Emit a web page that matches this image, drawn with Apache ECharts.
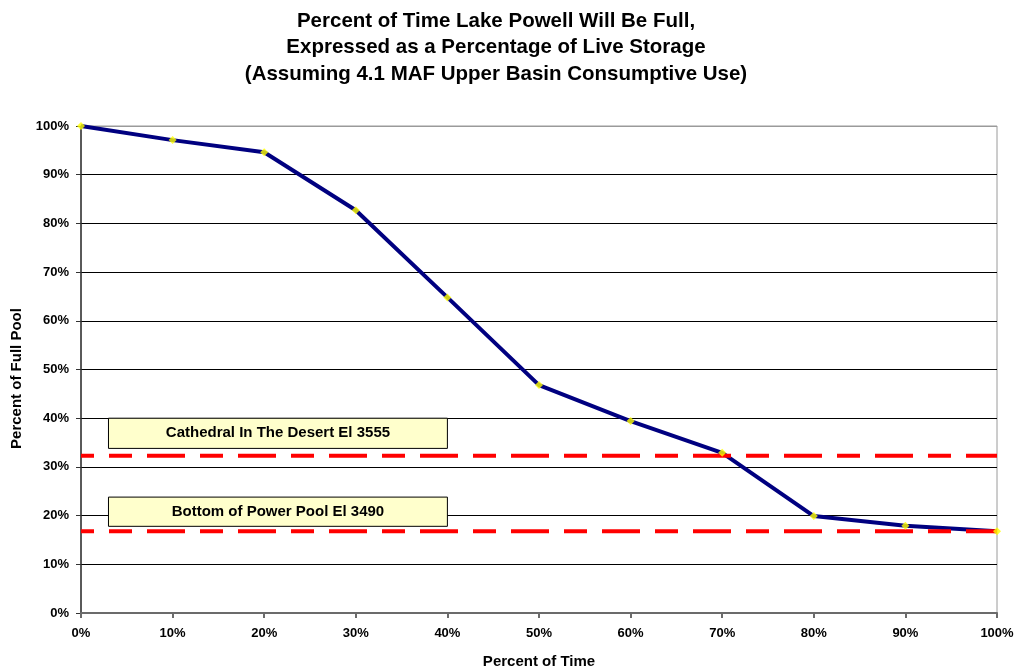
<!DOCTYPE html>
<html>
<head>
<meta charset="utf-8">
<script src="https://cdn.jsdelivr.net/npm/echarts@6/dist/echarts.min.js"></script>
<style>
html,body{margin:0;padding:0;background:#fff;}
#chart{width:1014px;height:672px;}
</style>
</head>
<body>
<div id="chart"></div>
<script>
var titleLines = [
  'Percent of Time Lake Powell Will Be Full,',
  'Expressed as a Percentage of Live Storage',
  '(Assuming 4.1 MAF Upper Basin Consumptive Use)'
];
var xAxisTitle = 'Percent of Time';
var yAxisTitle = 'Percent of Full Pool';
var timePct = [0, 10, 20, 30, 40, 50, 60, 70, 80, 90, 100];
var fullPoolPct = [100, 97.1, 94.6, 82.7, 64.8, 46.8, 39.4, 32.9, 19.9, 17.9, 16.8];
var cathedralLabel = 'Cathedral In The Desert El 3555';
var cathedralLevel = 32.3;
var powerPoolLabel = 'Bottom of Power Pool El 3490';
var powerPoolLevel = 16.8;
var cathedralBox = [[3, 40], [40, 33.8]];
var powerPoolBox = [[3, 23.8], [40, 17.8]];
var xTicks = [0, 100, 10];
var yTicks = [0, 100, 10];

var FONT = '"Liberation Sans", Arial, sans-serif';
var curve = timePct.map(function (t, i) { return [t, fullPoolPct[i]]; });
function levelLine(v) { return [[xTicks[0], v], [xTicks[1], v]]; }
function box(b, name) {
  return [{ coord: b[0], name: name }, { coord: b[1] }];
}
var gridColors = [];
for (var i = 0; i <= 10; i++) gridColors.push(i === 10 ? '#9a9a9a' : '#000');

var dashStyle = { color: '#ff0000', width: 4, type: [38, 15, 23, 15], dashOffset: 25 };
var boxStyle = {
  silent: true,
  itemStyle: { color: '#ffffcc', borderColor: '#000', borderWidth: 1 },
  label: { show: true, position: 'inside', color: '#000', fontFamily: FONT, fontWeight: 'bold', fontSize: 15 }
};

var chart = echarts.init(document.getElementById('chart'), null, { renderer: 'canvas' });
chart.setOption({
  animation: false,
  backgroundColor: '#fff',
  title: {
    text: titleLines.join('\n'),
    left: 496,
    top: 8,
    textAlign: 'center',
    padding: 0,
    textStyle: { fontFamily: FONT, fontWeight: 'bold', fontSize: 20.5, lineHeight: 26.5, color: '#000' }
  },
  grid: { left: 81, right: 17, top: 126, bottom: 59, outerBoundsMode: 'none', containLabel: false,
          show: true, borderColor: '#9a9a9a', borderWidth: 1 },
  xAxis: {
    type: 'value', min: xTicks[0], max: xTicks[1], interval: xTicks[2],
    name: xAxisTitle, nameLocation: 'middle', nameGap: 41,
    nameTextStyle: { fontFamily: FONT, fontWeight: 'bold', fontSize: 15, color: '#000' },
    axisLine: { lineStyle: { color: '#6b6b6b', width: 2 } },
    axisTick: { show: true, length: 5, lineStyle: { color: '#6b6b6b', width: 2 } },
    axisLabel: { formatter: '{value}%', margin: 14, fontFamily: FONT, fontWeight: 'bold', fontSize: 13, color: '#000' },
    splitLine: { show: false }
  },
  yAxis: {
    type: 'value', min: yTicks[0], max: yTicks[1], interval: yTicks[2],
    name: yAxisTitle, nameLocation: 'middle', nameGap: 56, nameRotate: 90,
    nameTextStyle: { fontFamily: FONT, fontWeight: 'bold', fontSize: 15, color: '#000', padding: [0, 18, 0, 0] },
    axisLine: { show: true, lineStyle: { color: '#333', width: 1.5 } },
    axisTick: { show: true, length: 5, lineStyle: { color: '#333', width: 1 } },
    axisLabel: { formatter: '{value}%', margin: 12, fontFamily: FONT, fontWeight: 'bold', fontSize: 13, color: '#000' },
    splitLine: { show: true, lineStyle: { color: gridColors, width: 1 } }
  },
  series: [
    {
      type: 'line', data: curve, symbol: 'none', z: 2,
      lineStyle: { color: '#000080', width: 4 }
    },
    {
      type: 'line', data: levelLine(cathedralLevel), symbol: 'none', z: 3,
      lineStyle: dashStyle,
      markArea: Object.assign({ data: [box(cathedralBox, cathedralLabel)] }, boxStyle)
    },
    {
      type: 'line', data: levelLine(powerPoolLevel), symbol: 'none', z: 3,
      lineStyle: dashStyle,
      markArea: Object.assign({ data: [box(powerPoolBox, powerPoolLabel)] }, boxStyle)
    },
    {
      type: 'scatter', data: curve, symbol: 'diamond', symbolSize: 8, z: 4,
      itemStyle: { color: '#ffff00' }
    }
  ]
});
</script>
</body>
</html>
